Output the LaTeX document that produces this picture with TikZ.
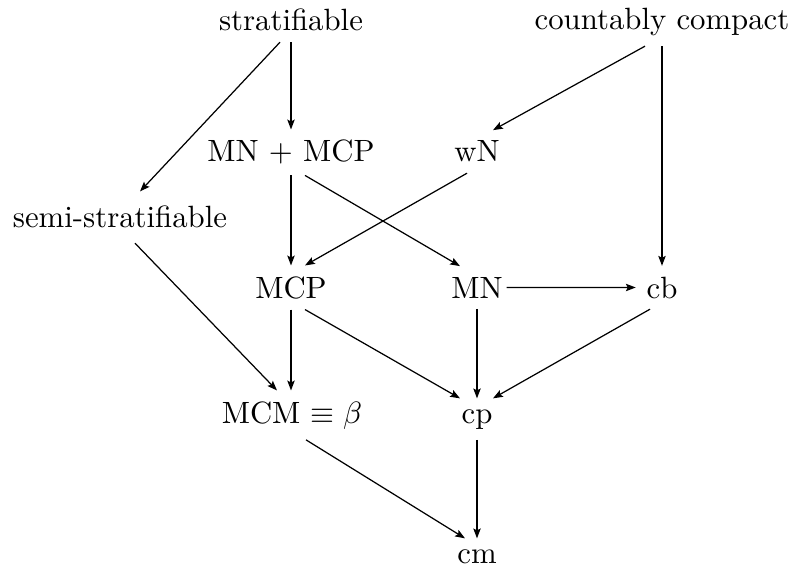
\documentclass[tikz,border=0pt]{standalone}
\usetikzlibrary{arrows.meta}
\begin{document}
\begin{tikzpicture}[x=0.325pt,y=-0.325pt,
  lbl/.style={anchor=base,inner sep=3.33pt},
  arr/.style={-{Stealth[length=3.2pt,width=2.4pt,inset=0.6pt]},line width=0.4pt}]
\useasboundingbox (0,0) rectangle (795,571);
\node[lbl] (strat) at (291,31) {stratifiable};
\node[lbl] (cc) at (662,29) {countably compact};
\node[lbl] (mnmcp) at (291,162) {MN $+$ MCP};
\node[lbl] (wn) at (477,162) {wN};
\node[lbl] (semi) at (120,228) {semi-stratifiable};
\node[lbl] (mcp) at (291,298) {MCP};
\node[lbl] (mn) at (477,298) {MN};
\node[lbl] (cb) at (662,298) {cb};
\node[lbl] (mcm) at (292,423) {MCM $\equiv\beta$};
\node[lbl] (cp) at (477,423) {cp};
\node[lbl] (cm) at (477,563) {cm};
\draw[arr] (strat) -- (mnmcp);
\draw[arr] ([shift={(-11,0)}]strat.south) -- ([shift={(20,-4)}]semi.north);
\draw[arr] ([shift={(-17,0)}]cc.south) -- ([shift={(16,0)}]wn.north);
\draw[arr] (cc.south) -- (cb.north);
\draw[arr] (mnmcp) -- (mcp);
\draw[arr] ([shift={(14,0)}]mnmcp.south) -- ([shift={(-17,0)}]mn.north);
\draw[arr] ([shift={(-10,0)}]wn.south) -- ([shift={(14,0)}]mcp.north);
\draw[arr] ([shift={(15,4)}]semi.south) -- ([shift={(-15,0)}]mcm.north);
\draw[arr] (mcp.south) -- (mcp.south|-mcm.north);
\draw[arr] ([shift={(14,0)}]mcp.south) -- ([shift={(-17,0)}]cp.north);
\draw[arr] ([shift={(-7,0)}]mn.east) -- (cb.west);
\draw[arr] (mn) -- (cp);
\draw[arr] ([shift={(-12,0)}]cb.south) -- ([shift={(16,0)}]cp.north);
\draw[arr] ([shift={(14,0)}]mcm.south) -- ([shift={(-12,0)}]cm.north);
\draw[arr] (cp) -- (cm);
\end{tikzpicture}
\end{document}
